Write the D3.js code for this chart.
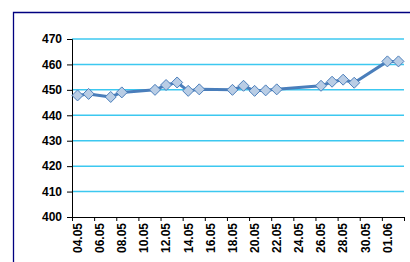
<!DOCTYPE html>
<html>
<head>
<meta charset="utf-8">
<script src="https://cdn.jsdelivr.net/npm/d3@7"></script>
<style>
  body { margin: 0; background: #fff; }
  svg { display: block; font-family: "Liberation Sans", Arial, sans-serif; }
</style>
</head>
<body>
<div id="chart"></div>
<script>
// dates (day.month, 2 = June) and price values
var dates = ["04.05","05.05","07.05","08.05","11.05","12.05","13.05","14.05","15.05",
             "18.05","19.05","20.05","21.05","22.05","26.05","27.05","28.05","29.05",
             "01.06","02.06"];
var values = [447.8, 448.4, 447.2, 449.0, 450.0, 451.9, 452.9, 449.6, 450.2,
              450.0, 451.6, 449.6, 449.8, 450.2, 451.6, 453.2, 454.0, 452.8,
              461.2, 461.2];
var yTicks = [400, 410, 420, 430, 440, 450, 460, 470];
var xTickLabels = ["04.05","06.05","08.05","10.05","12.05","14.05","16.05","18.05",
                   "20.05","22.05","24.05","26.05","28.05","30.05","01.06"];

var W = 410, H = 262;
var margin = {left: 72, top: 39, right: 6, bottom: 45};

function toDate(s) {
  var p = s.split(".");
  return new Date(2009, +p[1] - 1, +p[0]);
}

var svg = d3.select("#chart").append("svg")
    .attr("width", W).attr("height", H);

// chart frame (only top and left edges visible)
svg.append("path")
    .attr("d", "M13.5,262 V12.5 H410")
    .attr("fill", "none")
    .attr("stroke", "#000080")
    .attr("stroke-width", 1.3);

var start = toDate("04.05");
var end = d3.timeDay.offset(toDate("01.06"), 2); // 30 day slots
var x = d3.scaleTime()
    .domain([start, end])
    .range([margin.left, W - margin.right]);
var halfDay = (x(d3.timeDay.offset(start, 1)) - x(start)) / 2;

var y = d3.scaleLinear()
    .domain([400, 470])
    .range([H - margin.bottom, margin.top]);

// gridlines
svg.append("g")
  .selectAll("line")
  .data(yTicks.slice(1))
  .enter().append("line")
    .attr("x1", margin.left).attr("x2", W - margin.right)
    .attr("y1", function(d) { return y(d); })
    .attr("y2", function(d) { return y(d); })
    .attr("stroke", "#3cc8f0")
    .attr("stroke-width", 1.5);

// y axis
var yAxis = svg.append("g")
    .attr("transform", "translate(" + margin.left + ",0)")
    .call(d3.axisLeft(y).tickValues(yTicks).tickSize(5).tickPadding(5));
yAxis.select(".domain").attr("stroke", "#000").attr("stroke-width", 1);
yAxis.selectAll("text")
    .attr("font-size", 12).attr("font-weight", "bold")
    .attr("font-family", "'Liberation Sans', Arial, sans-serif")
    .attr("fill", "#000");

// x axis: ticks at slot boundaries every 2 days
var tickDates = xTickLabels.map(toDate);
tickDates.push(end);
var xAxis = svg.append("g")
    .attr("transform", "translate(0," + y(400) + ")")
    .call(d3.axisBottom(x).tickValues(tickDates).tickSize(4).tickFormat(""));
xAxis.select(".domain").attr("stroke", "#000").attr("stroke-width", 1);

svg.append("g")
  .selectAll("text")
  .data(xTickLabels)
  .enter().append("text")
    .attr("transform", function(d) {
      return "translate(" + (x(toDate(d)) + halfDay) + "," + (y(400) + 6) + ") rotate(-90)";
    })
    .attr("text-anchor", "end")
    .attr("dy", "0.36em")
    .attr("font-size", 12)
    .attr("font-weight", "bold")
    .attr("fill", "#000")
    .text(function(d) { return d; });

// data line
var pts = dates.map(function(d, i) { return {d: toDate(d), v: values[i]}; });
var line = d3.line()
    .x(function(p) { return x(p.d) + halfDay; })
    .y(function(p) { return y(p.v); });

svg.append("path")
    .datum(pts)
    .attr("d", line)
    .attr("fill", "none")
    .attr("stroke", "#4a7ebb")
    .attr("stroke-width", 3)
    .attr("stroke-linejoin", "round");

svg.append("g")
  .selectAll("path")
  .data(pts)
  .enter().append("path")
    .attr("transform", function(p) {
      return "translate(" + (x(p.d) + halfDay) + "," + y(p.v) + ")";
    })
    .attr("d", "M0,-5.5 L5.5,0 L0,5.5 L-5.5,0 Z")
    .attr("fill", "#b9cde5")
    .attr("stroke", "#4a7ebb")
    .attr("stroke-width", 1);
</script>
</body>
</html>
